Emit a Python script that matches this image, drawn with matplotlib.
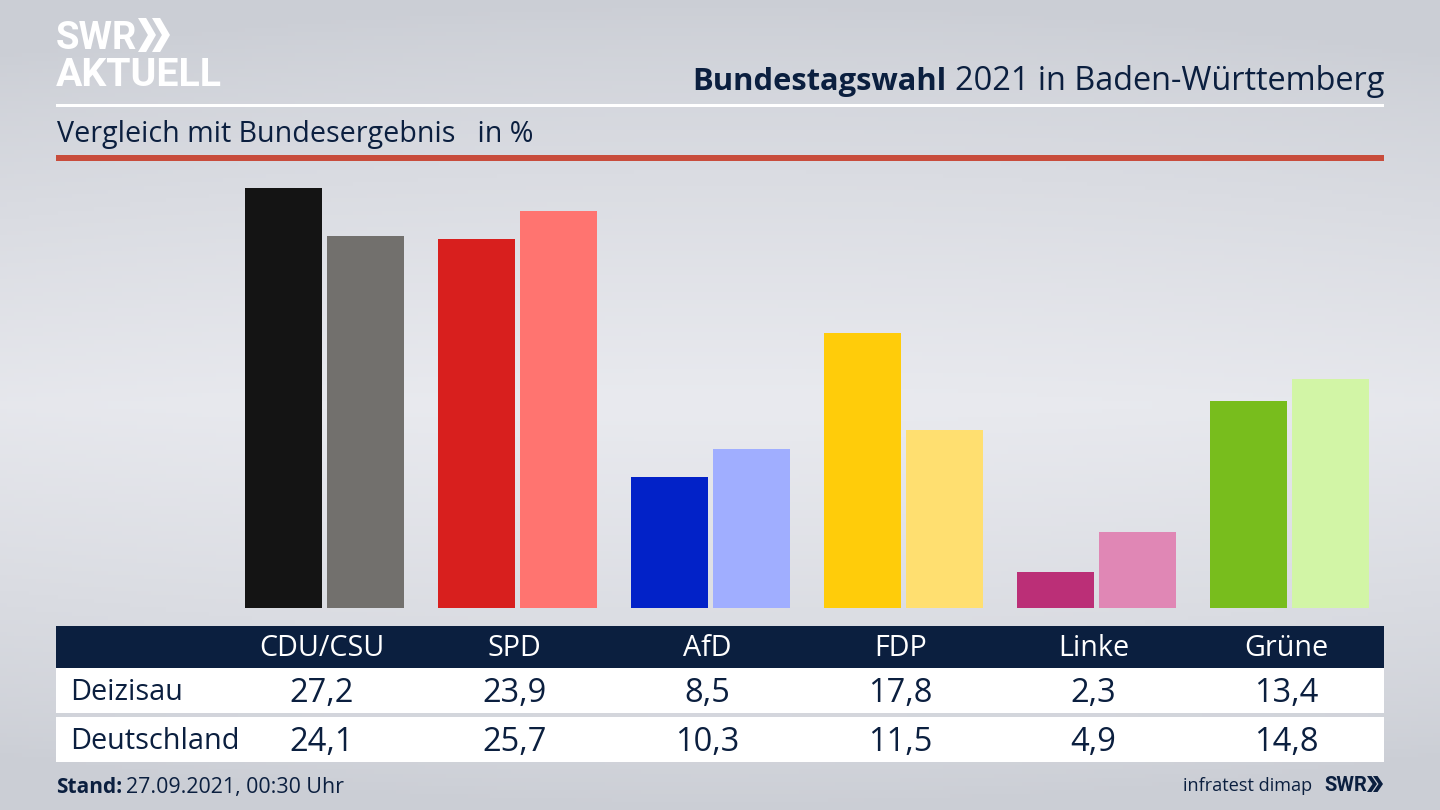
import numpy as np
import matplotlib
matplotlib.use("Agg")
import matplotlib.pyplot as plt
from matplotlib.colors import LinearSegmentedColormap
from matplotlib.patches import Polygon, Rectangle

parties = ["CDU/CSU", "SPD", "AfD", "FDP", "Linke", "Grüne"]
deizisau = [27.2, 23.9, 8.5, 17.8, 2.3, 13.4]
deutschland = [24.1, 25.7, 10.3, 11.5, 4.9, 14.8]
colors_local = ["#141414", "#d81f1e", "#0222c8", "#ffcc0a", "#bb2f77", "#78bd1d"]
colors_national = ["#72706d", "#ff7470", "#a0aeff", "#ffdf70", "#e087b5", "#d2f5a6"]
row_labels = ["Deizisau", "Deutschland"]

NAVY = "#0b1f3f"
FONT = "Open Sans"
W, H = 1440, 810

fig = plt.figure(figsize=(14.4, 8.1), dpi=100)

# background + furniture, in pixel coordinates
bg = fig.add_axes([0, 0, 1, 1])
bg.set_xlim(0, W)
bg.set_ylim(H, 0)
bg.axis("off")
cmap = LinearSegmentedColormap.from_list("bg", ["#cbced5", "#e9eaef"])
yy, xx = np.mgrid[0:1:200j, -1:1:200j]
shade = np.clip(1 - np.abs(yy - 0.5) * 2 - 0.12 * xx**2, 0, 1) ** 0.8
bg.imshow(shade, cmap=cmap, extent=(0, W, H, 0), aspect="auto", vmin=0, vmax=1)

bg.add_patch(Rectangle((56, 104), 1328, 3, color="white", lw=0))
bg.add_patch(Rectangle((56, 155), 1328, 5.5, color="#c84c3c", lw=0))
bg.add_patch(Rectangle((56, 626), 1328, 42, color=NAVY, lw=0))
bg.add_patch(Rectangle((56, 668), 1328, 45, color="white", lw=0))
bg.add_patch(Rectangle((56, 717), 1328, 45, color="white", lw=0))


def chevrons(x, y, h, w, step, color):
    for i in range(2):
        x0 = x + i * step
        bg.add_patch(Polygon([(x0, y), (x0 + w * 0.45, y), (x0 + w, y + h / 2),
                              (x0 + w * 0.45, y + h), (x0, y + h), (x0 + w * 0.55, y + h / 2)],
                             color=color, lw=0))


# logo
bg.text(56, 49, "SWR", color="white", fontsize=27.5, fontweight="bold", family="Roboto", va="baseline")
bg.text(56, 86, "AKTUELL", color="white", fontsize=28.3, fontweight="bold", family="Roboto", va="baseline")
chevrons(138, 18, 34, 18, 14, "white")

# title, bold part placed left of the regular part
title = bg.text(1384, 90, "2021 in Baden-Württemberg", color=NAVY, fontsize=23.45, family=FONT,
                ha="right", va="baseline")
fig.canvas.draw()
ext = title.get_window_extent()
bg.text(ext.x0 - 8, 90, "Bundestagswahl", color=NAVY, fontsize=22.2, fontweight="bold", family=FONT,
        ha="right", va="baseline")

bg.text(57, 142, "Vergleich mit Bundesergebnis   in %", color=NAVY, fontsize=20.6, family=FONT, va="baseline")

# bars
PX_PER_UNIT = 15.44
GROUP = 193
ax = fig.add_axes([0, (H - 608) / H, 1, 440 / H])
ax.patch.set_alpha(0)
ax.axis("off")
ax.set_xlim(-324.5 / GROUP, (W - 324.5) / GROUP)
ax.set_ylim(0, 440 / PX_PER_UNIT)
x = np.arange(len(parties))
ax.bar(x - 41 / GROUP, deizisau, 77 / GROUP, color=colors_local)
ax.bar(x + 41 / GROUP, deutschland, 77 / GROUP, color=colors_national)

# table
for i, party in enumerate(parties):
    cx = 321.5 + i * GROUP
    bg.text(cx, 656, party, color="white", fontsize=20.7, family=FONT, ha="center", va="baseline")
    bg.text(cx, 702, f"{deizisau[i]:.1f}".replace(".", ","), color=NAVY, fontsize=23.5, family=FONT,
            ha="center", va="baseline")
    bg.text(cx, 751, f"{deutschland[i]:.1f}".replace(".", ","), color=NAVY, fontsize=23.5, family=FONT,
            ha="center", va="baseline")
bg.text(70, 700, row_labels[0], color=NAVY, fontsize=20.8, family=FONT, va="baseline")
bg.text(70, 749, row_labels[1], color=NAVY, fontsize=20.8, family=FONT, va="baseline")

# footer
stand = bg.text(56, 793, "Stand:", color=NAVY, fontsize=15, fontweight="bold", family=FONT, va="baseline")
fig.canvas.draw()
bg.text(stand.get_window_extent().x1 + 4, 793, "27.09.2021, 00:30 Uhr", color=NAVY, fontsize=15.4, family=FONT,
        va="baseline")
bg.text(1312, 791, "infratest dimap", color=NAVY, fontsize=13.1, family=FONT, ha="right", va="baseline")
bg.text(1324, 791, "SWR", color=NAVY, fontsize=14.5, fontweight="bold", family="Roboto", va="baseline")
chevrons(1367, 776, 16, 10, 6, NAVY)

fig.savefig("out.png", dpi=100)
